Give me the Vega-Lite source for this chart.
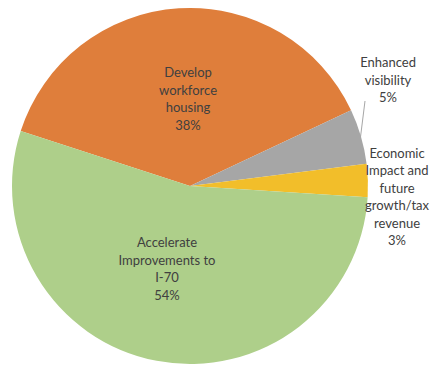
{
  "$schema": "https://vega.github.io/schema/vega-lite/v6.json",
  "width": 380,
  "height": 372,
  "autosize": {"type": "none"},
  "padding": {"left": 0, "top": 0, "right": 51, "bottom": 0},
  "background": "white",
  "config": {"view": {"stroke": null}},
  "datasets": {
    "slices": [
      {"category": "Develop workforce housing", "value": 38, "ord": 1},
      {"category": "Enhanced visibility", "value": 5, "ord": 2},
      {"category": "Economic impact and future growth/tax revenue", "value": 3, "ord": 3},
      {"category": "Accelerate Improvements to I-70", "value": 54, "ord": 4}
    ],
    "labels": [
      {"label": "Develop\nworkforce\nhousing\n38%", "angle": 359.0, "dist": 113},
      {"label": "Accelerate\nImprovements to\nI-70\n54%", "angle": 202.0, "dist": 61.5},
      {"label": "Enhanced\nvisibility\n5%", "angle": 58.2, "dist": 233},
      {"label": "Economic\nImpact and\nfuture\ngrowth/tax\nrevenue\n3%", "angle": 81.2, "dist": 209.5}
    ],
    "leader": [
      {"x1": 365, "y1": 101, "x2": 360, "y2": 141}
    ]
  },
  "layer": [
    {
      "data": {"name": "slices"},
      "mark": {"type": "arc", "outerRadius": 178},
      "encoding": {
        "theta": {"field": "value", "type": "quantitative", "stack": true,
                  "scale": {"domain": [0, 100], "range": [5.0265, 11.3097]}},
        "order": {"field": "ord", "type": "quantitative"},
        "color": {"field": "category", "type": "nominal", "legend": null,
                  "scale": {"domain": ["Develop workforce housing", "Enhanced visibility", "Economic impact and future growth/tax revenue", "Accelerate Improvements to I-70"],
                            "range": ["#DF7E3B", "#A6A6A6", "#F2BE2A", "#AECF8A"]}}
      }
    },
    {
      "data": {"name": "labels"},
      "mark": {"type": "text", "lineBreak": "\n", "font": "Lato", "fontSize": 13, "lineHeight": 17.5, "color": "#404040", "align": "center", "baseline": "middle"},
      "encoding": {
        "theta": {"field": "angle", "type": "quantitative", "stack": null,
                  "scale": {"domain": [0, 360], "range": [0, 6.2832]}},
        "radius": {"field": "dist", "type": "quantitative",
                   "scale": {"type": "linear", "domain": [0, 178], "range": [0, 178], "zero": true}},
        "text": {"field": "label", "type": "nominal"}
      }
    },
    {
      "data": {"name": "leader"},
      "mark": {"type": "rule", "color": "#A6A6A6", "strokeWidth": 1},
      "encoding": {
        "x": {"field": "x1", "type": "quantitative", "axis": null, "scale": {"domain": [0, 380], "range": [0, 380]}},
        "y": {"field": "y1", "type": "quantitative", "axis": null, "scale": {"domain": [0, 372], "range": [0, 372]}},
        "x2": {"field": "x2"},
        "y2": {"field": "y2"}
      }
    }
  ],
  "resolve": {"scale": {"theta": "independent"}}
}
